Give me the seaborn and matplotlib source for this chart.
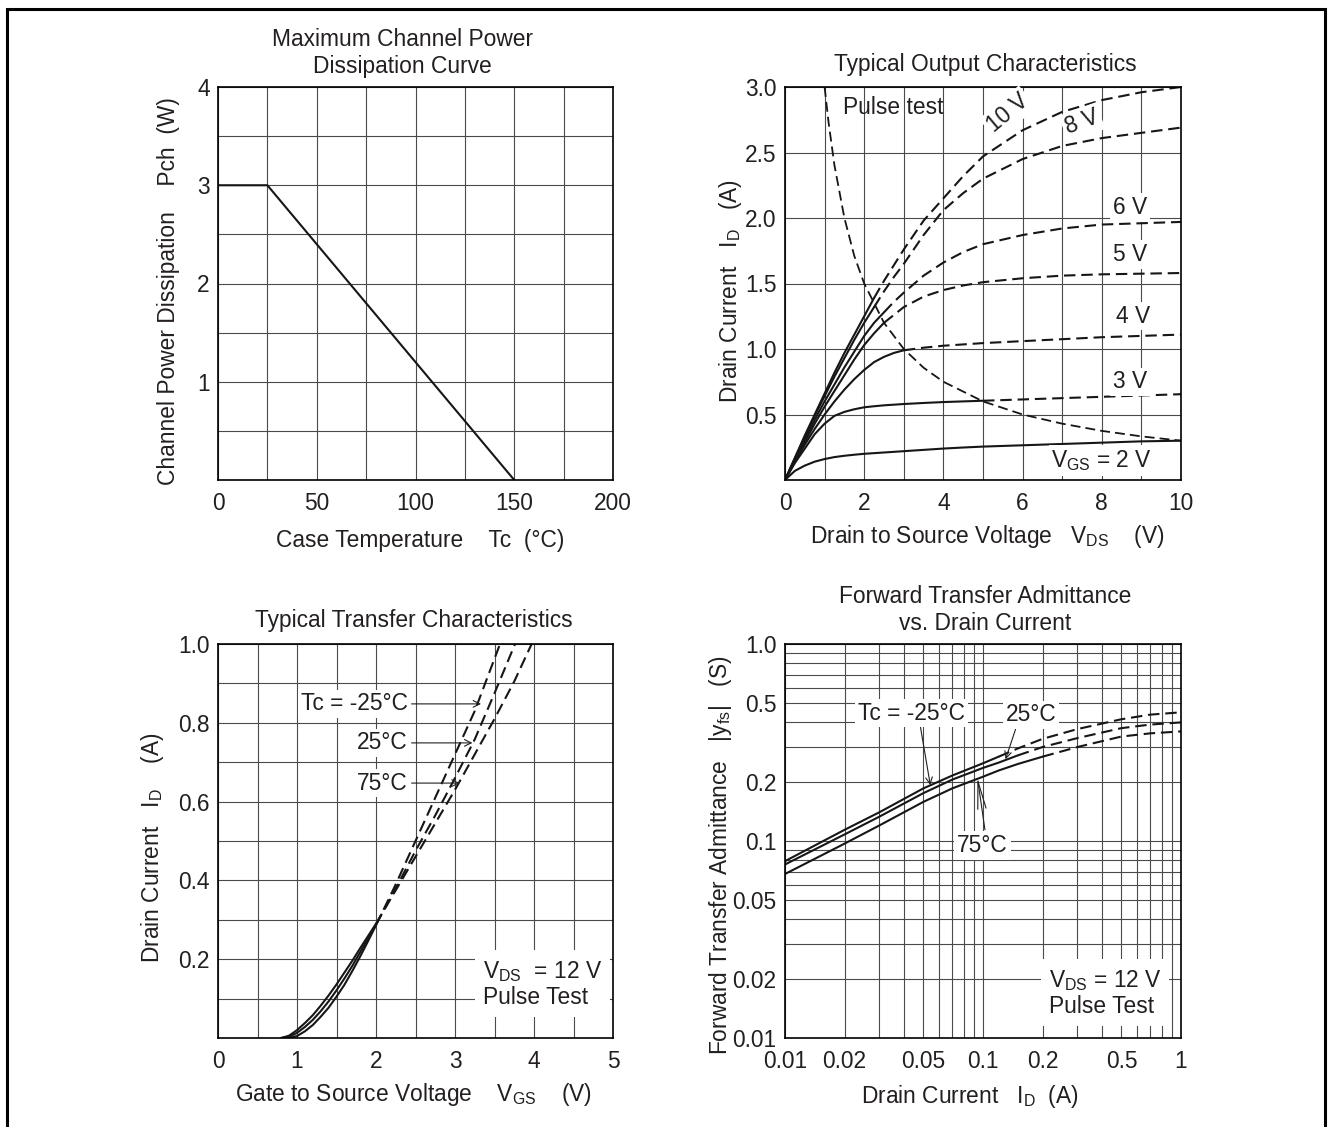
import numpy as np
import matplotlib
matplotlib.use("Agg")
import matplotlib.pyplot as plt
import seaborn as sns
from matplotlib.patches import Rectangle
from matplotlib.ticker import FixedLocator, NullFormatter

# ---------------- data ----------------
# Maximum channel power dissipation curve
TC = [0, 25, 150]
PCH = [3.0, 3.0, 0.0]
TL_XTICKS = [0, 25, 50, 75, 100, 125, 150, 175, 200]
TL_XLABELS = ["0", "", "50", "", "100", "", "150", "", "200"]
TL_YTICKS = [0, 0.5, 1, 1.5, 2, 2.5, 3, 3.5, 4]
TL_YLABELS = ["", "", "1", "", "2", "", "3", "", "4"]

# Typical output characteristics
V_OUT = [0, 0.25, 0.5, 0.75, 1, 1.25, 1.5, 1.75, 2, 2.25, 2.5, 2.75, 3, 3.5, 4, 4.5, 5, 6, 7, 8, 9, 10]
I_10V = [0, 0.17, 0.34, 0.5, 0.66, 0.82, 0.97, 1.11, 1.25, 1.39, 1.52, 1.64, 1.76, 1.98, 2.15, 2.32, 2.47, 2.67, 2.81, 2.9, 2.96, 3.0]
I_8V = [0, 0.165, 0.33, 0.49, 0.64, 0.79, 0.93, 1.07, 1.2, 1.32, 1.44, 1.55, 1.65, 1.87, 2.06, 2.19, 2.3, 2.45, 2.55, 2.61, 2.65, 2.69]
I_6V = [0, 0.16, 0.31, 0.46, 0.6, 0.73, 0.86, 0.98, 1.1, 1.2, 1.28, 1.36, 1.43, 1.56, 1.66, 1.74, 1.8, 1.87, 1.92, 1.95, 1.96, 1.97]
I_5V = [0, 0.15, 0.29, 0.43, 0.56, 0.68, 0.8, 0.92, 1.03, 1.12, 1.2, 1.26, 1.32, 1.4, 1.45, 1.485, 1.51, 1.54, 1.56, 1.57, 1.575, 1.58]
I_4V = [0, 0.14, 0.27, 0.39, 0.5, 0.6, 0.69, 0.77, 0.84, 0.9, 0.94, 0.97, 0.99, 1.01, 1.025, 1.035, 1.045, 1.06, 1.075, 1.09, 1.1, 1.11]
I_3V = [0, 0.13, 0.24, 0.35, 0.43, 0.49, 0.52, 0.54, 0.555, 0.563, 0.57, 0.575, 0.58, 0.588, 0.595, 0.6, 0.605, 0.615, 0.625, 0.635, 0.645, 0.655]
I_2V = [0, 0.07, 0.11, 0.14, 0.16, 0.175, 0.185, 0.193, 0.2, 0.205, 0.21, 0.215, 0.22, 0.23, 0.24, 0.248, 0.255, 0.265, 0.275, 0.285, 0.295, 0.3]
OUT_CURVES = [I_10V, I_8V, I_6V, I_5V, I_4V, I_3V, I_2V]
OUT_SOLID_UNTIL = [2.25, 2.25, 2.5, 2.5, 3, 5, 10]   # VDS where curve turns dashed
V_PLIM = [1.0, 1.1, 1.25, 1.5, 1.75, 2, 2.5, 3, 3.5, 4, 5, 6, 7, 8, 9, 10]
I_PLIM = [3.0, 2.73, 2.4, 2.0, 1.71, 1.5, 1.2, 1.0, 0.857, 0.75, 0.6, 0.5, 0.43, 0.375, 0.333, 0.3]
TR_XTICKS = list(range(0, 11))
TR_XLABELS = ["0", "", "2", "", "4", "", "6", "", "8", "", "10"]
TR_YTICKS = [0, 0.5, 1.0, 1.5, 2.0, 2.5, 3.0]
TR_YLABELS = ["", "0.5", "1.0", "1.5", "2.0", "2.5", "3.0"]

# Typical transfer characteristics
VGS_SOLID = [0.8, 0.9, 1.0, 1.1, 1.2, 1.3, 1.4, 1.5, 1.6, 1.7, 1.8, 1.9, 2.0]
ID_75_S = [0, 0.006, 0.02, 0.038, 0.058, 0.082, 0.108, 0.136, 0.166, 0.196, 0.228, 0.259, 0.29]
ID_25_S = [0, 0.003, 0.013, 0.028, 0.046, 0.068, 0.093, 0.121, 0.151, 0.183, 0.218, 0.253, 0.288]
ID_M25_S = [0, 0.0, 0.005, 0.017, 0.033, 0.054, 0.077, 0.105, 0.135, 0.17, 0.207, 0.246, 0.286]
VGS_M25_D = [2.0, 2.25, 2.5, 2.75, 3.0, 3.25, 3.57]
ID_M25_D = [0.286, 0.39, 0.5, 0.61, 0.72, 0.83, 1.0]
VGS_25_D = [2.0, 2.25, 2.5, 2.75, 3.0, 3.25, 3.5, 3.76]
ID_25_D = [0.288, 0.38, 0.475, 0.565, 0.66, 0.758, 0.875, 1.0]
VGS_75_D = [2.0, 2.25, 2.5, 2.75, 3.0, 3.25, 3.5, 3.75, 3.97]
ID_75_D = [0.29, 0.375, 0.46, 0.545, 0.63, 0.72, 0.81, 0.905, 1.0]
BL_XTICKS = [0, 0.5, 1, 1.5, 2, 2.5, 3, 3.5, 4, 4.5, 5]
BL_XLABELS = ["0", "", "1", "", "2", "", "3", "", "4", "", "5"]
BL_YTICKS = [0, 0.1, 0.2, 0.3, 0.4, 0.5, 0.6, 0.7, 0.8, 0.9, 1.0]
BL_YLABELS = ["", "", "0.2", "", "0.4", "", "0.6", "", "0.8", "", "1.0"]

# Forward transfer admittance vs drain current
ID_FWD = [0.01, 0.02, 0.03, 0.05, 0.07, 0.1, 0.12, 0.15, 0.2, 0.3, 0.5, 0.7, 1.0]
YFS_M25 = [0.079, 0.114, 0.14, 0.185, 0.215, 0.248, 0.268, 0.295, 0.33, 0.37, 0.415, 0.438, 0.45]
YFS_25 = [0.076, 0.108, 0.133, 0.175, 0.205, 0.235, 0.25, 0.272, 0.3, 0.333, 0.374, 0.39, 0.4]
YFS_75 = [0.068, 0.097, 0.12, 0.158, 0.185, 0.212, 0.228, 0.246, 0.268, 0.3, 0.339, 0.352, 0.36]
FWD_CURVES = [YFS_M25, YFS_25, YFS_75]
FWD_SOLID_UNTIL = [0.12, 0.15, 0.2]
BR_XTICKS = [0.01, 0.02, 0.05, 0.1, 0.2, 0.5, 1]
BR_XLABELS = ["0.01", "0.02", "0.05", "0.1", "0.2", "0.5", "1"]
BR_YTICKS = [0.01, 0.02, 0.05, 0.1, 0.2, 0.5, 1.0]
BR_YLABELS = ["0.01", "0.02", "0.05", "0.1", "0.2", "0.5", "1.0"]
LOG_MINOR = [m * d for d in (0.01, 0.1) for m in range(2, 10)]

# ---------------- style ----------------
sns.set_theme(style="white")
plt.rcParams["font.family"] = ["Liberation Sans", "DejaVu Sans"]
plt.rcParams["mathtext.fontset"] = "custom"
plt.rcParams["mathtext.rm"] = "Liberation Sans"
plt.rcParams["mathtext.it"] = "Liberation Sans:italic"

W, H = 1331, 1127
TXT = "#231f20"
LINE = "#161616"
GRID = "#4a4a4a"
FS = 16.4
LW = 1.5
DASH = (0, (5.5, 2.8))

fig = plt.figure(figsize=(W / 100, H / 100), dpi=100)
fig.patch.set_facecolor("white")


def make_ax(x0, y0, x1, y1):
    return fig.add_axes([x0 / W, 1 - y1 / H, (x1 - x0) / W, (y1 - y0) / H])


def style(ax):
    ax.set_facecolor("white")
    for s in ax.spines.values():
        s.set_visible(True)
        s.set_color("black")
        s.set_linewidth(1.2)
    ax.tick_params(which="both", length=0, labelsize=FS, labelcolor=TXT)
    ax.tick_params(axis="x", which="both", pad=9)
    ax.tick_params(axis="y", which="both", pad=6)
    ax.grid(True, which="both", color=GRID, lw=0.8)
    ax.set_axisbelow(True)
    ax.set_xlabel("")
    ax.set_ylabel("")


def ftext(x, y, s, **kw):
    kw.setdefault("ha", "center")
    kw.setdefault("va", "center")
    kw.setdefault("fontsize", FS)
    kw.setdefault("color", TXT)
    fig.text(x / W, 1 - y / H, s, **kw)


def line(ax, x, y, dashed=False, lw=LW):
    sns.lineplot(x=np.asarray(x, float), y=np.asarray(y, float), ax=ax, color=LINE,
                 lw=lw, linestyle=DASH if dashed else "-", sort=False, estimator=None,
                 zorder=2)


def split_line(ax, x, y, until):
    x = np.asarray(x, float)
    y = np.asarray(y, float)
    s = x <= until + 1e-9
    d = x >= until - 1e-9
    line(ax, x[s], y[s])
    if d.sum() > 1:
        line(ax, x[d], y[d], dashed=True)


WBOX = dict(boxstyle="square,pad=0.12", fc="white", ec="none")

# ---------------- top-left ----------------
ax1 = make_ax(218, 87, 613, 480)
style(ax1)
line(ax1, TC, PCH)
ax1.set_xlim(0, 200)
ax1.set_ylim(0, 4)
ax1.set_xticks(TL_XTICKS, TL_XLABELS)
ax1.set_yticks(TL_YTICKS, TL_YLABELS)
ftext(402, 53, "Maximum Channel Power\nDissipation Curve", linespacing=1.17)
ftext(420, 540, "Case Temperature    Tc  (°C)")
ftext(168, 291, "Channel Power Dissipation    Pch  (W)", rotation=90)

# ---------------- top-right ----------------
ax2 = make_ax(785, 87, 1181, 480)
style(ax2)
for cur, until in zip(OUT_CURVES, OUT_SOLID_UNTIL):
    split_line(ax2, V_OUT, cur, until)
line(ax2, V_PLIM, I_PLIM, dashed=True, lw=1.3)
ax2.set_xlim(0, 10)
ax2.set_ylim(0, 3)
ax2.set_xticks(TR_XTICKS, TR_XLABELS)
ax2.set_yticks(TR_YTICKS, TR_YLABELS)
kw = dict(fontsize=FS, color=TXT, ha="center", va="center", bbox=WBOX, zorder=3)
ax2.text(1.465, 2.84, "Pulse test", fontsize=FS, color=TXT, ha="left", va="center", zorder=3)
ax2.text(5.63, 2.80, "10 V", rotation=40, **kw)
ax2.text(7.5, 2.73, "8 V", rotation=20, **kw)
ax2.text(8.71, 2.08, "6 V", **kw)
ax2.text(8.71, 1.72, "5 V", **kw)
ax2.text(8.79, 1.25, "4 V", **kw)
ax2.text(8.71, 0.75, "3 V", **kw)
ax2.text(8.0, 0.15, r"V$_\mathregular{GS}$ = 2 V", **kw)
ftext(985, 64, "Typical Output Characteristics")
ftext(987, 537, r"Drain to Source Voltage   V$_\mathregular{DS}$    (V)")
ftext(731, 291, r"Drain Current   I$_\mathregular{D}$   (A)", rotation=90)

# ---------------- bottom-left ----------------
ax3 = make_ax(218, 644, 613, 1038)
style(ax3)
for ys in (ID_75_S, ID_25_S, ID_M25_S):
    line(ax3, VGS_SOLID, ys)
for xs, ys in ((VGS_M25_D, ID_M25_D), (VGS_25_D, ID_25_D), (VGS_75_D, ID_75_D)):
    line(ax3, xs, ys, dashed=True)
ax3.set_xlim(0, 5)
ax3.set_ylim(0, 1)
ax3.set_xticks(BL_XTICKS, BL_XLABELS)
ax3.set_yticks(BL_YTICKS, BL_YLABELS)
akw = dict(arrowstyle="->", color=TXT, lw=0.8, shrinkA=0, shrinkB=0)
for lab, yv, xtip in (("Tc = -25°C", 0.848, 3.33), ("25°C", 0.749, 3.22), ("75°C", 0.647, 3.06)):
    ax3.annotate("", xy=(xtip, yv), xytext=(2.45, yv), arrowprops=akw, zorder=3)
    ax3.text(2.40, yv, lab, fontsize=FS, color=TXT, ha="right", va="center", bbox=WBOX, zorder=4)
ax3.text(3.35, 0.137, "V$_\\mathregular{DS}$  = 12 V\nPulse Test", fontsize=FS, color=TXT,
         ha="left", va="center", linespacing=1.15,
         bbox=dict(boxstyle="square,pad=0.35", fc="white", ec="none"), zorder=4)
ftext(414, 621, "Typical Transfer Characteristics")
ftext(413, 1095, r"Gate to Source Voltage    V$_\mathregular{GS}$    (V)")
ftext(152, 848, r"Drain Current   I$_\mathregular{D}$    (A)", rotation=90)

# ---------------- bottom-right ----------------
ax4 = make_ax(785, 644, 1181, 1038)
ax4.set_xscale("log")
ax4.set_yscale("log")
style(ax4)
for cur, until in zip(FWD_CURVES, FWD_SOLID_UNTIL):
    split_line(ax4, ID_FWD, cur, until)
ax4.set_xlim(0.01, 1)
ax4.set_ylim(0.01, 1)
ax4.xaxis.set_major_locator(FixedLocator(BR_XTICKS))
ax4.yaxis.set_major_locator(FixedLocator(BR_YTICKS))
ax4.set_xticklabels(BR_XLABELS)
ax4.set_yticklabels(BR_YLABELS)
ax4.xaxis.set_minor_locator(FixedLocator(LOG_MINOR))
ax4.yaxis.set_minor_locator(FixedLocator(LOG_MINOR))
ax4.xaxis.set_minor_formatter(NullFormatter())
ax4.yaxis.set_minor_formatter(NullFormatter())
ax4.tick_params(which="both", length=0)
ax4.text(0.0234, 0.446, "Tc = -25°C", fontsize=FS, color=TXT, ha="left", va="center", bbox=WBOX, zorder=4)
ax4.text(0.130, 0.437, "25°C", fontsize=FS, color=TXT, ha="left", va="center", bbox=WBOX, zorder=4)
ax4.text(0.0994, 0.0948, "75°C", fontsize=FS, color=TXT, ha="center", va="center", bbox=WBOX, zorder=4)
ax4.annotate("", xy=(0.0542, 0.192), xytext=(0.0483, 0.38), arrowprops=akw, zorder=3)
ax4.annotate("", xy=(0.130, 0.26), xytext=(0.146, 0.369), arrowprops=akw, zorder=3)
ax4.annotate("", xy=(0.0937, 0.21), xytext=(0.1023, 0.114),
             arrowprops=dict(arrowstyle="->,head_length=1.0,head_width=0.15", color=TXT, lw=0.8,
                             shrinkA=0, shrinkB=0, mutation_scale=20), zorder=3)
ax4.text(0.2146, 0.0169, "V$_\\mathregular{DS}$ = 12 V\nPulse Test", fontsize=FS, color=TXT,
         ha="left", va="center", linespacing=1.15,
         bbox=dict(boxstyle="square,pad=0.35", fc="white", ec="none"), zorder=4)
ftext(985, 610, "Forward Transfer Admittance\nvs. Drain Current", linespacing=1.17)
ftext(970, 1097, r"Drain Current   I$_\mathregular{D}$  (A)")
ftext(720, 855, r"Forward Transfer Admittance   |y$_\mathregular{fs}$|   (S)", rotation=90)

# outer frame
fig.patches.append(Rectangle((7 / W, -0.01), (1325 - 7) / W, 1.002, transform=fig.transFigure,
                             fill=False, ec="black", lw=2.2))

fig.savefig("out.png", dpi=100, facecolor="white")
